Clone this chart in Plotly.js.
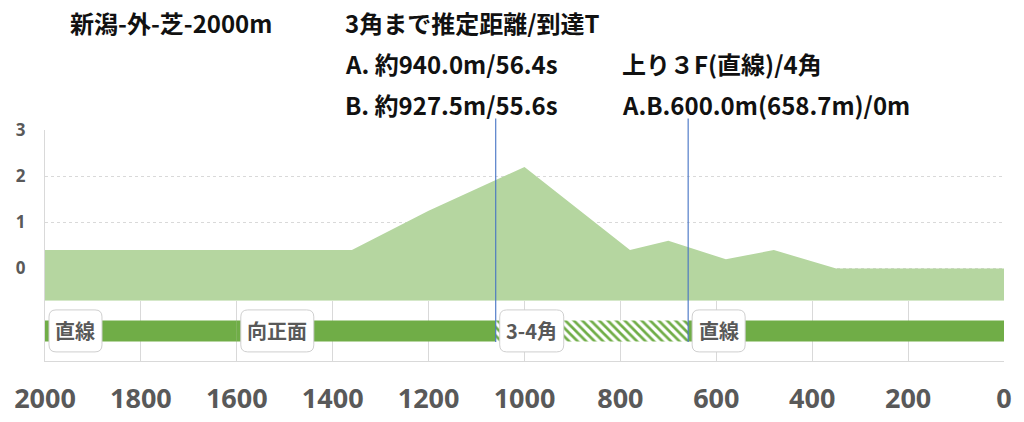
<!DOCTYPE html>
<html>
<head>
<meta charset="utf-8">
<script src="https://cdn.plot.ly/plotly-3.0.1.min.js"></script>
<style>
  body { margin: 0; background: #fff; }
  #chart { width: 1024px; height: 422px; }
</style>
</head>
<body>
<div id="chart"></div>
<script>
// course profile (distance remaining in m, height in m)
const dist = [2000, 1360, 1200, 1000, 780, 700, 580, 480, 350, 0]
const height = [0.4, 0.4, 1.25, 2.2, 0.4, 0.6, 0.2, 0.4, 0, 0]
const baseLevel = -0.7

// course sections
const sectionNames = ['直線', '向正面', '3-4角', '直線']
const sectionStart = [2000, 1600, 1060, 658.7]
const sectionEnd = [1600, 1060, 658.7, 0]
const sectionCurve = [false, false, true, false]

// corner / last 3F markers
const markerDist = [1060, 658.7]

const xTicks = [2000, 1800, 1600, 1400, 1200, 1000, 800, 600, 400, 200, 0]
const yTicks = [0, 1, 2, 3]

const headLines = [
    { text: '新潟-外-芝-2000m', col: 0, row: 0 },
    { text: '3角まで推定距離/到達T', col: 1, row: 0 },
    { text: 'A. 約940.0m/56.4s', col: 1, row: 1 },
    { text: 'B. 約927.5m/55.6s', col: 1, row: 2 },
    { text: '上り３F(直線)/4角', col: 2, row: 1 },
    { text: 'A.B.600.0m(658.7m)/0m', col: 2, row: 2 },
]

const green = '#70ad47'
const lightGreen = '#b5d6a0'
const gridGrey = '#d9d9d9'
const tickGrey = '#595959'
const bandSplit = 0.2605
const labelFont = 'Noto Sans CJK JP'
const labelSize = 20

// rounded box path in pixels, relative to the anchor point
function roundBox(x0, x1, h, r)
{
    const y0 = -h / 2, y1 = h / 2
    return `M${x0 + r},${y0} L${x1 - r},${y0} Q${x1},${y0} ${x1},${y0 + r} ` +
        `L${x1},${y1 - r} Q${x1},${y1} ${x1 - r},${y1} L${x0 + r},${y1} ` +
        `Q${x0},${y1} ${x0},${y1 - r} L${x0},${y0 + r} Q${x0},${y0} ${x0 + r},${y0} Z`
}

function plot()
{
    const data = []

    // profile area, filled down to base level
    data.push({
        x: [dist[0], dist[dist.length - 1]], y: [baseLevel, baseLevel],
        xaxis: 'x2', yaxis: 'y', mode: 'lines', line: { width: 0 },
        hoverinfo: 'skip', showlegend: false
    })
    data.push({
        x: dist, y: height,
        xaxis: 'x2', yaxis: 'y', mode: 'lines', line: { width: 0 },
        fill: 'tonexty', fillcolor: lightGreen, showlegend: false
    })

    // section band
    const solid = { x: [], base: [], y: [] }
    const curve = { x: [], base: [], y: [] }
    for (let i = 0; i < sectionNames.length; i++) {
        const t = sectionCurve[i] ? curve : solid
        t.x.push(sectionStart[i] - sectionEnd[i])
        t.base.push(sectionEnd[i])
        t.y.push(0.5)
    }
    data.push({
        type: 'bar', orientation: 'h', x: solid.x, base: solid.base, y: solid.y,
        xaxis: 'x', yaxis: 'y2', width: 0.35,
        marker: { color: green, line: { width: 0 } }, showlegend: false
    })
    data.push({
        type: 'bar', orientation: 'h', x: curve.x, base: curve.base, y: curve.y,
        xaxis: 'x', yaxis: 'y2', width: 0.35,
        marker: { color: 'white', line: { width: 0 },
            pattern: { shape: '\\', fgcolor: green, bgcolor: 'white', size: 6, solidity: 0.45 } },
        showlegend: false
    })

    const shapes = markerDist.map(d => ({
        type: 'line', xref: 'x', yref: 'paper', x0: d, x1: d, y0: 0.082, y1: 1.05,
        line: { color: '#4472c4', width: 1.1 }, layer: 'above'
    }))

    // measure label widths for the rounded boxes
    const ctx = document.createElement('canvas').getContext('2d')
    ctx.font = `bold ${labelSize}px "${labelFont}"`

    const annotations = []
    sectionNames.forEach((name, i) => {
        const w = ctx.measureText(name).width + 13
        shapes.push({
            type: 'path', xref: 'x', yref: 'y2', xsizemode: 'pixel', ysizemode: 'pixel',
            xanchor: sectionStart[i], yanchor: 0.5,
            path: roundBox(4, 4 + w, 42, 7),
            fillcolor: 'white', line: { color: '#cfcfcf', width: 1 }, layer: 'above'
        })
        annotations.push({
            x: sectionStart[i], xref: 'x', y: 0.5, yref: 'y2',
            xanchor: 'center', yanchor: 'middle', xshift: 4 + w / 2, showarrow: false,
            text: name, font: { size: labelSize, color: tickGrey, family: labelFont, weight: 'bold' }
        })
    })

    const colX = [0.024, 0.3107, 0.5996]
    const rowY = [1.464, 1.287, 1.110]
    for (const h of headLines) {
        annotations.push({
            x: colX[h.col], xref: 'paper', y: rowY[h.row], yref: 'paper',
            xanchor: 'left', yanchor: 'middle', showarrow: false, text: h.text,
            font: { size: 24, color: '#111', family: 'Noto Sans CJK JP', weight: 'bold' }
        })
    }

    const layout = {
        width: 1024, height: 422,
        margin: { l: 45, r: 20, t: 130, b: 61 },
        paper_bgcolor: 'white', plot_bgcolor: 'white',
        barmode: 'overlay', showlegend: false,
        xaxis: {
            anchor: 'y2', range: [2000, 0], tickvals: xTicks,
            showgrid: true, gridcolor: gridGrey, zeroline: false,
            showline: true, linecolor: gridGrey, ticks: '', ticklabelstandoff: 14,
            tickfont: { family: 'Open Sans', size: 27, color: tickGrey, weight: 'bold' }
        },
        xaxis2: {
            anchor: 'y', matches: 'x', range: [2000, 0],
            showgrid: false, showticklabels: false, zeroline: false, showline: false
        },
        yaxis: {
            domain: [bandSplit, 1], range: [baseLevel, 3], tickvals: yTicks,
            showgrid: true, gridcolor: gridGrey, griddash: 'dot', zeroline: false,
            showline: true, linecolor: gridGrey, ticks: '', ticklabelstandoff: 15,
            tickfont: { family: 'Open Sans', size: 17, color: tickGrey, weight: 'bold' }
        },
        yaxis2: {
            domain: [0, bandSplit], range: [0, 1],
            showgrid: false, showticklabels: false, zeroline: false,
            showline: true, linecolor: gridGrey
        },
        shapes: shapes,
        annotations: annotations
    }

    Plotly.newPlot('chart', data, layout, { displayModeBar: false, staticPlot: true })
}

plot()
</script>
</body>
</html>
